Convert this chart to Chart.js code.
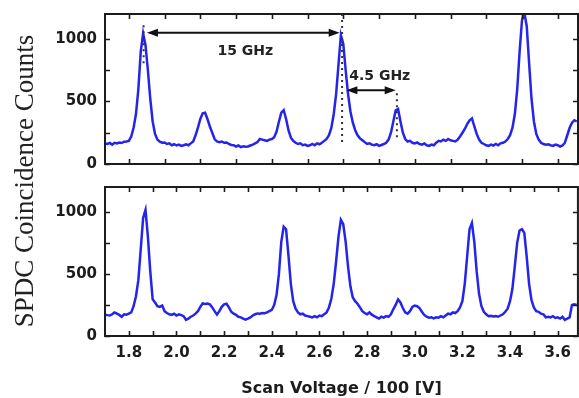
<!DOCTYPE html>
<html>
<head>
<meta charset="utf-8">
<script src="https://cdn.jsdelivr.net/npm/chart.js@4.4.1/dist/chart.umd.min.js"></script>
<style>
  body { margin: 0; background: #fff; }
  .wrap { position: relative; width: 579px; height: 398px; }
  .wrap canvas { position: absolute; left: 0; top: 0; }
</style>
</head>
<body>
<div class="wrap">
  <canvas id="top-panel" width="579" height="398"></canvas>
  <canvas id="bottom-panel" width="579" height="398"></canvas>
</div>
<script>
// scan voltage (x 100 V)
const voltage = [
  1.70, 1.71, 1.72, 1.73, 1.74, 1.75, 1.76, 1.77, 1.78, 1.79,
  1.80, 1.81, 1.82, 1.83, 1.84, 1.85, 1.86, 1.87, 1.88, 1.89,
  1.90, 1.91, 1.92, 1.93, 1.94, 1.95, 1.96, 1.97, 1.98, 1.99,
  2.00, 2.01, 2.02, 2.03, 2.04, 2.05, 2.06, 2.07, 2.08, 2.09,
  2.10, 2.11, 2.12, 2.13, 2.14, 2.15, 2.16, 2.17, 2.18, 2.19,
  2.20, 2.21, 2.22, 2.23, 2.24, 2.25, 2.26, 2.27, 2.28, 2.29,
  2.30, 2.31, 2.32, 2.33, 2.34, 2.35, 2.36, 2.37, 2.38, 2.39,
  2.40, 2.41, 2.42, 2.43, 2.44, 2.45, 2.46, 2.47, 2.48, 2.49,
  2.50, 2.51, 2.52, 2.53, 2.54, 2.55, 2.56, 2.57, 2.58, 2.59,
  2.60, 2.61, 2.62, 2.63, 2.64, 2.65, 2.66, 2.67, 2.68, 2.69,
  2.70, 2.71, 2.72, 2.73, 2.74, 2.75, 2.76, 2.77, 2.78, 2.79,
  2.80, 2.81, 2.82, 2.83, 2.84, 2.85, 2.86, 2.87, 2.88, 2.89,
  2.90, 2.91, 2.92, 2.93, 2.94, 2.95, 2.96, 2.97, 2.98, 2.99,
  3.00, 3.01, 3.02, 3.03, 3.04, 3.05, 3.06, 3.07, 3.08, 3.09,
  3.10, 3.11, 3.12, 3.13, 3.14, 3.15, 3.16, 3.17, 3.18, 3.19,
  3.20, 3.21, 3.22, 3.23, 3.24, 3.25, 3.26, 3.27, 3.28, 3.29,
  3.30, 3.31, 3.32, 3.33, 3.34, 3.35, 3.36, 3.37, 3.38, 3.39,
  3.40, 3.41, 3.42, 3.43, 3.44, 3.45, 3.46, 3.47, 3.48, 3.49,
  3.50, 3.51, 3.52, 3.53, 3.54, 3.55, 3.56, 3.57, 3.58, 3.59,
  3.60, 3.61, 3.62, 3.63, 3.64, 3.65, 3.66, 3.67, 3.68
];

// upper trace
const countsTop = [
  165, 160, 168, 155, 170, 165, 172, 168, 178, 180,
  185, 220, 290, 400, 600, 900, 1045, 950, 750, 520,
  340, 240, 195, 178, 170, 172, 160, 165, 150, 158,
  148, 155, 145, 150, 158, 150, 165, 180, 230, 290,
  360, 405, 410, 360, 300, 250, 200, 180, 175, 180,
  170, 172, 160, 152, 150, 140, 148, 135, 142, 138,
  140, 148, 155, 165, 175, 200, 195, 190, 185, 195,
  200, 215, 260, 340, 410, 430, 360, 270, 210, 185,
  170, 160, 165, 150, 155, 145, 150, 160, 150, 165,
  158, 170, 185, 200, 230, 290, 400, 560, 800, 1030,
  960, 750, 560, 420, 330, 270, 230, 205, 190, 175,
  160, 165, 155, 150, 158, 145, 152, 160, 170, 195,
  250, 340, 430, 440, 340, 250, 200, 180, 185, 170,
  165, 172, 160, 155, 165, 150, 145, 155, 150, 170,
  185, 180, 195, 185, 200, 190, 185, 180, 195, 220,
  250, 280, 320, 350, 365, 300, 240, 195, 170, 160,
  150, 145, 155, 148, 160, 150, 165, 170, 180, 200,
  230, 290, 400, 600, 900, 1150, 1210, 1100, 800, 520,
  340, 240, 195, 170, 160, 155, 158, 150, 145, 155,
  150, 140, 148, 170, 230, 290, 330, 350, 340
];

// lower trace
const countsBottom = [
  172, 168, 165, 175, 190, 180, 170, 155, 175, 172,
  180, 190, 240, 320, 450, 700, 950, 1015, 800, 520,
  295, 270, 240, 235, 245, 200, 185, 175, 170, 180,
  165, 175, 168, 160, 130, 140, 155, 165, 180, 200,
  235, 262, 258, 262, 255, 230, 200, 172, 200, 235,
  255, 260, 230, 195, 180, 170, 155, 150, 140, 132,
  140, 150, 165, 175, 182, 180, 185, 183, 190, 200,
  210, 250, 330, 500, 760, 880, 860, 650, 420, 280,
  220, 190, 175, 180, 165, 160, 155, 150, 160, 150,
  165, 160, 175, 190, 230, 300, 420, 600, 800, 935,
  900, 760, 560, 400, 310, 280, 260, 230, 200, 185,
  175, 190, 172, 160, 150, 140, 155, 148, 160, 155,
  175, 215, 250, 295, 270, 225, 190, 180, 200, 235,
  245, 240, 225, 195, 170, 155, 148, 150, 142, 150,
  148, 160, 150, 165, 180, 175, 190, 185, 200, 230,
  280, 420, 640, 860, 910, 760, 520, 340, 240, 195,
  175, 160, 162, 158, 160, 155, 165, 175, 195, 220,
  280, 380, 560, 750, 850, 860, 830, 640, 420, 290,
  230, 200, 195, 180, 175, 150, 155, 150, 160, 145,
  150, 140, 155, 130, 140, 150, 250, 255, 250
];

const yTicks = [0, 250, 500, 750, 1000];
const topXTicks = [1.8, 1.95, 2.1, 2.25, 2.4, 2.55, 2.7, 2.85, 3.0, 3.15, 3.3, 3.45, 3.6];
const bottomXTicks = [1.8, 1.9, 2.0, 2.1, 2.2, 2.3, 2.4, 2.5, 2.6, 2.7, 2.8, 2.9, 3.0, 3.1, 3.2, 3.3, 3.4, 3.5, 3.6];

// annotations on the upper panel (data coordinates)
const peakMarkers = [
  { x: 1.862, from: 1110, to: 800 },
  { x: 2.695, from: 1200, to: 175 },
  { x: 2.925, from: 566, to: 185 }
];
const spacingArrows = [
  { x1: 1.876, x2: 2.685, y: 1050, label: '15 GHz', lx: 2.289, ly: 903 },
  { x1: 2.713, x2: 2.92, y: 590, label: '4.5 GHz', lx: 2.853, ly: 702 }
];

const X_MIN = 1.7, X_MAX = 3.685;
const LINE_COLOR = '#2424ea';
const INK = '#1c1c1c';

Chart.defaults.font.family = 'DejaVu Sans';
Chart.defaults.color = INK;

// frame + inward ticks on all four sides
function frameTicks(xTickValues) {
  return {
    id: 'frameTicks',
    afterDatasetsDraw(chart) {
      const { ctx, chartArea: a, scales } = chart;
      ctx.save();
      ctx.strokeStyle = INK;
      ctx.lineWidth = 1.6;
      const len = 5;
      ctx.beginPath();
      xTickValues.forEach(v => {
        const px = Math.round(scales.x.getPixelForValue(v)) + 0.5;
        ctx.moveTo(px, a.top); ctx.lineTo(px, a.top + len);
        ctx.moveTo(px, a.bottom); ctx.lineTo(px, a.bottom - len);
      });
      yTicks.forEach(v => {
        const py = Math.round(scales.y.getPixelForValue(v)) + 0.5;
        ctx.moveTo(a.left, py); ctx.lineTo(a.left + len, py);
        ctx.moveTo(a.right, py); ctx.lineTo(a.right - len, py);
      });
      ctx.stroke();
      ctx.lineWidth = 2;
      ctx.strokeRect(a.left, a.top, a.right - a.left, a.bottom - a.top);
      ctx.restore();
    }
  };
}

function arrowHead(ctx, x, y, dir) {
  ctx.beginPath();
  ctx.moveTo(x, y);
  ctx.lineTo(x - dir * 11, y - 4);
  ctx.lineTo(x - dir * 11, y + 4);
  ctx.closePath();
  ctx.fill();
}

const spacingAnnotations = {
  id: 'spacingAnnotations',
  afterDatasetsDraw(chart) {
    const { ctx, scales: { x, y } } = chart;
    ctx.save();
    ctx.strokeStyle = '#333';
    ctx.lineWidth = 2;
    ctx.setLineDash([2, 4]);
    peakMarkers.forEach(m => {
      const px = x.getPixelForValue(m.x);
      ctx.beginPath();
      ctx.moveTo(px, y.getPixelForValue(m.from));
      ctx.lineTo(px, y.getPixelForValue(m.to));
      ctx.stroke();
    });
    ctx.setLineDash([]);
    ctx.strokeStyle = '#111';
    ctx.fillStyle = '#111';
    spacingArrows.forEach(a => {
      const x1 = x.getPixelForValue(a.x1);
      const x2 = x.getPixelForValue(a.x2);
      const py = y.getPixelForValue(a.y);
      ctx.beginPath();
      ctx.moveTo(x1 + 6, py);
      ctx.lineTo(x2 - 6, py);
      ctx.stroke();
      arrowHead(ctx, x1, py, -1);
      arrowHead(ctx, x2, py, 1);
      ctx.font = 'bold 14px "DejaVu Sans"';
      ctx.textAlign = 'center';
      ctx.textBaseline = 'middle';
      ctx.fillStyle = '#222';
      ctx.fillText(a.label, x.getPixelForValue(a.lx), y.getPixelForValue(a.ly));
      ctx.fillStyle = '#111';
    });
    ctx.restore();
  }
};

const sharedYTitle = {
  id: 'sharedYTitle',
  afterDraw(chart) {
    const { ctx } = chart;
    ctx.save();
    ctx.translate(26, 181);
    ctx.rotate(-Math.PI / 2);
    ctx.font = '27px "Liberation Serif"';
    ctx.fillStyle = '#222';
    ctx.textAlign = 'center';
    ctx.textBaseline = 'middle';
    ctx.fillText('SPDC Coincidence Counts', 0, 0);
    ctx.restore();
  }
};

function yScale() {
  return {
    min: 0,
    max: 1200,
    afterFit: s => {
      s.width = 105;
      s.paddingTop = 0;
      s.paddingBottom = 0;
    },
    afterBuildTicks: s => { s.ticks = yTicks.map(v => ({ value: v })); },
    grid: { display: false, drawTicks: false },
    border: { display: false },
    ticks: {
      padding: 8,
      font: { size: 15, weight: 'bold' },
      color: INK,
      callback: v => (v % 500 === 0 ? String(v) : '')
    }
  };
}

function dataset(values) {
  return {
    data: voltage.map((v, i) => ({ x: v, y: values[i] })),
    borderColor: LINE_COLOR,
    borderWidth: 2.5,
    pointRadius: 0,
    tension: 0,
    clip: 0
  };
}

new Chart(document.getElementById('top-panel'), {
  type: 'line',
  data: { datasets: [dataset(countsTop)] },
  options: {
    responsive: false,
    animation: false,
    layout: { padding: { left: 0, right: 1, top: 14, bottom: 234 } },
    plugins: { legend: { display: false }, tooltip: { enabled: false } },
    scales: {
      x: { type: 'linear', min: X_MIN, max: X_MAX, display: false },
      y: yScale()
    }
  },
  plugins: [frameTicks(topXTicks), spacingAnnotations]
});

new Chart(document.getElementById('bottom-panel'), {
  type: 'line',
  data: { datasets: [dataset(countsBottom)] },
  options: {
    responsive: false,
    animation: false,
    layout: { padding: { left: 0, right: 1, top: 187, bottom: 0 } },
    plugins: { legend: { display: false }, tooltip: { enabled: false } },
    scales: {
      x: {
        type: 'linear',
        min: X_MIN,
        max: X_MAX,
        afterFit: s => { s.height = 62; },
        afterBuildTicks: s => { s.ticks = bottomXTicks.map(v => ({ value: v })); },
        grid: { display: false, drawTicks: false },
        border: { display: false },
        ticks: {
          padding: 8,
          autoSkip: false,
          maxRotation: 0,
          font: { size: 15, weight: 'bold' },
          color: INK,
          callback: v => (Math.round(v * 10) % 2 === 0 ? v.toFixed(1) : '')
        },
        title: {
          display: true,
          text: 'Scan Voltage / 100 [V]',
          font: { size: 16, weight: 'bold' },
          color: INK,
          padding: { top: 0, bottom: 0 }
        }
      },
      y: yScale()
    }
  },
  plugins: [frameTicks(bottomXTicks), sharedYTitle]
});
</script>
</body>
</html>
